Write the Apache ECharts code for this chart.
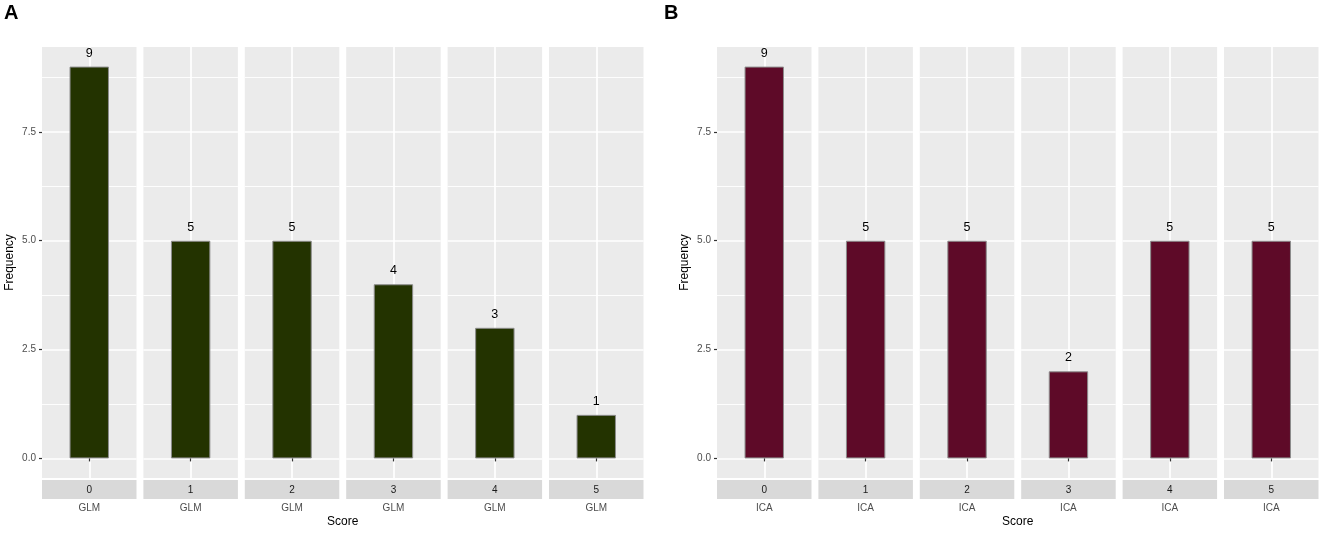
<!DOCTYPE html>
<html><head><meta charset="utf-8">
<script src="https://cdn.jsdelivr.net/npm/echarts@6/dist/echarts.min.js"></script>
<style>html,body{margin:0;padding:0;background:#fff}#c{width:1325px;height:533px}</style>
</head><body><div id="c"></div>
<script>
const scores = ['0','1','2','3','4','5'];
const glmFreq = [9,5,5,4,3,1];
const icaFreq = [9,5,5,2,5,5];
const yTicks = [0,2.5,5,7.5];
const yMinor = [1.25,3.75,6.25,8.75];
const panelLabels = ['A','B'];
const methods = ['GLM','ICA'];
const panelValues = [glmFreq, icaFreq];
const panelColors = ['#233300','#5E0A28'];

const FONT = "'Liberation Sans', Arial, Helvetica, sans-serif";
const panelLeft = [42, 717], step = 101.4, fw = 94.5, plotTop = 47, plotH = 431, stripH = 19;
const yMin = -0.45, yMax = 9.45;

const grid = [], xAxis = [], yAxis = [], series = [], graphic = [];
let gi = 0;
for (let p = 0; p < 2; p++) {
  for (let f = 0; f < scores.length; f++) {
    const left = panelLeft[p] + f * step;
    grid.push({left: left, top: plotTop, width: fw, height: plotH, show: true,
      backgroundColor: '#EBEBEB', borderWidth: 0, containLabel: false});
    graphic.push({type: 'rect', silent: true, z: -1,
      shape: {x: left, y: plotTop + plotH + 2, width: fw, height: stripH},
      style: {fill: '#D9D9D9'}});
    xAxis.push({type: 'category', gridIndex: gi, data: [methods[p]], position: 'bottom', offset: 22, z: 5,
      axisLine: {show: false}, axisTick: {show: true, length: 3, alignWithLabel: true, lineStyle: {color: '#333333', width: 1.2}},
      axisLabel: {margin: 3, fontSize: 10, color: '#4D4D4D', fontFamily: FONT},
      splitLine: {show: false}});
    xAxis.push({type: 'category', gridIndex: gi, data: [scores[f]], position: 'bottom', offset: 0, z: 5,
      axisLine: {show: false}, axisTick: {show: false},
      axisLabel: {show: true, margin: 7, fontSize: 10, color: '#1A1A1A', fontFamily: FONT},
      splitLine: {show: false}});
    const first = f === 0;
    yAxis.push({type: 'value', gridIndex: gi, min: yMin, max: yMax,
      name: first ? 'Frequency' : '', nameLocation: 'middle', nameGap: 26, nameRotate: 90,
      nameTextStyle: {fontSize: 12, color: '#000', fontFamily: FONT},
      axisLine: {show: false},
      axisTick: {show: first, length: 3, customValues: yTicks, lineStyle: {color: '#333333', width: 1.2}},
      axisLabel: {show: first, margin: 6, fontSize: 10, color: '#4D4D4D', fontFamily: FONT,
        customValues: yTicks, formatter: v => Number(v).toFixed(1)},
      splitLine: {show: false}});
    const lines = [];
    yMinor.forEach(v => lines.push({yAxis: v, lineStyle: {width: 0.9}}));
    yTicks.forEach(v => lines.push({yAxis: v, lineStyle: {width: 1.7}}));
    lines.push({xAxis: methods[p], lineStyle: {width: 1.7}});
    series.push({type: 'bar', xAxisIndex: 2 * gi, yAxisIndex: gi, z: 3,
      data: [panelValues[p][f]], barWidth: '41.7%',
      itemStyle: {color: panelColors[p], borderColor: '#8C8C8C', borderWidth: 1},
      label: {show: true, position: 'top', distance: 7, fontSize: 12.5, color: '#000', fontFamily: FONT},
      markLine: {silent: true, z: 1, symbol: ['none', 'none'], label: {show: false},
        lineStyle: {color: '#FFFFFF', type: 'solid'}, animation: false, data: lines}});
    gi++;
  }
  const center = panelLeft[p] + (5 * step + fw) / 2;
  graphic.push({type: 'text', silent: true, x: center, y: 522,
    style: {text: 'Score', fontSize: 12, fill: '#000', fontFamily: FONT, align: 'center', verticalAlign: 'middle'}});
  graphic.push({type: 'text', silent: true, x: p === 0 ? 4 : 664, y: 13,
    style: {text: panelLabels[p], fontSize: 20, fontWeight: 'bold', fill: '#000', fontFamily: FONT, align: 'left', verticalAlign: 'middle'}});
}

const chart = echarts.init(document.getElementById('c'), null, {renderer: 'canvas'});
chart.setOption({animation: false, backgroundColor: '#FFFFFF', grid, xAxis, yAxis, series, graphic});
</script></body></html>
